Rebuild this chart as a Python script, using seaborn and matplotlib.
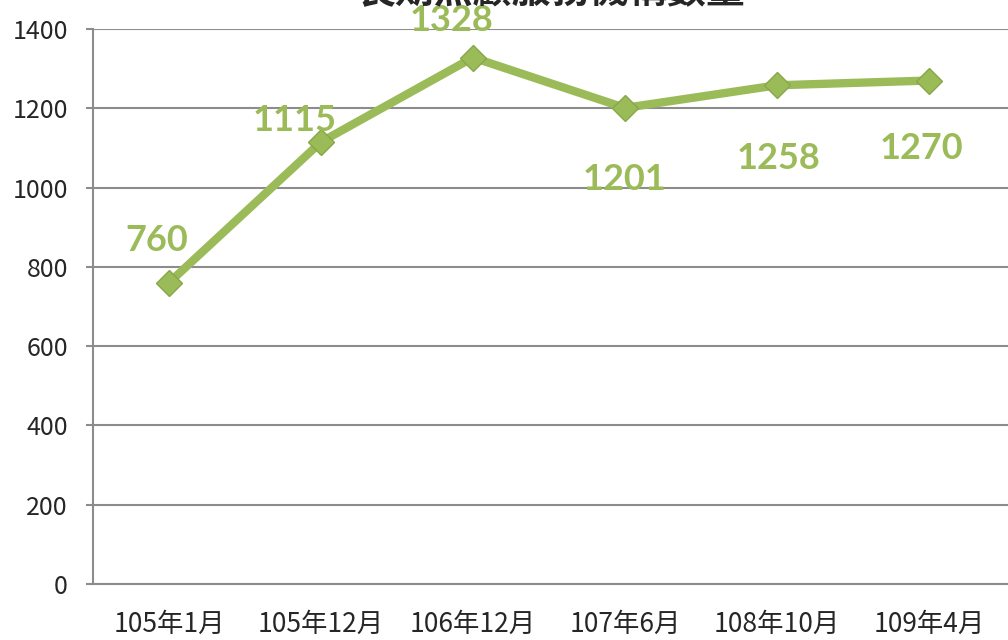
import seaborn as sns
import matplotlib.pyplot as plt
import pandas as pd

categories = ['105年1月', '105年12月', '106年12月', '107年6月', '108年10月', '109年4月']
values = [760, 1115, 1328, 1201, 1258, 1270]
y_ticks = [0, 200, 400, 600, 800, 1000, 1200, 1400]
title = '長期照顧服務機構數量'

# label offsets in pixels (dx, dy), as placed in the original
label_offsets = [(-12, 42), (-26, 21), (-21, 37), (0, -72), (2, -73), (-8, -68)]

green = '#9BBB59'
grid_gray = '#8C8C8C'

sns.set_style('white')
plt.rcParams['font.family'] = ['Noto Sans CJK TC', 'DejaVu Sans']

df = pd.DataFrame({'month': categories, 'count': values})

fig = plt.figure(figsize=(10.08, 6.4), dpi=100)
ax = fig.add_axes([93 / 1008, 56 / 640, 915 / 1008, 555 / 640])

sns.lineplot(data=df, x='month', y='count', ax=ax, color=green, linewidth=6,
             marker='D', markersize=13, markeredgecolor='#86A848', markeredgewidth=1,
             sort=False, zorder=3)

ax.set_ylim(0, 1400)
ax.set_xlim(-0.5, 5.52)
ax.set_yticks(y_ticks)
ax.set_xticks(range(len(categories)))
ax.set_xticklabels(categories)
ax.set_xticks([i - 0.5 for i in range(len(categories) + 1)], minor=True)
ax.set_xlabel('')
ax.set_ylabel('')

ax.yaxis.grid(True, color=grid_gray, linewidth=1.5)
ax.set_axisbelow(True)
for side in ['top', 'right']:
    ax.spines[side].set_visible(False)
ax.spines['left'].set_color(grid_gray)
ax.spines['left'].set_linewidth(1.5)
ax.spines['bottom'].set_color(grid_gray)
ax.spines['bottom'].set_linewidth(1.5)

ax.tick_params(axis='x', which='major', length=0, pad=19, labelsize=19)
ax.tick_params(axis='x', which='minor', length=12, width=1.5, color=grid_gray, direction='out')
ax.tick_params(axis='y', which='major', length=5, width=1.5, color=grid_gray, pad=13, labelsize=18,
               left=True)

for i, v in enumerate(values):
    dx, dy = label_offsets[i]
    ax.annotate(str(v), (i, v), xytext=(dx * 0.72, dy * 0.72), textcoords='offset points',
                ha='center', va='center', color=green, fontsize=26, fontweight='bold',
                family=['Lato', 'DejaVu Sans'], zorder=4)

fig.text(0.546, 1.014, title, ha='center', va='center', fontsize=28, fontweight='bold')

fig.savefig('out.png', dpi=100)
